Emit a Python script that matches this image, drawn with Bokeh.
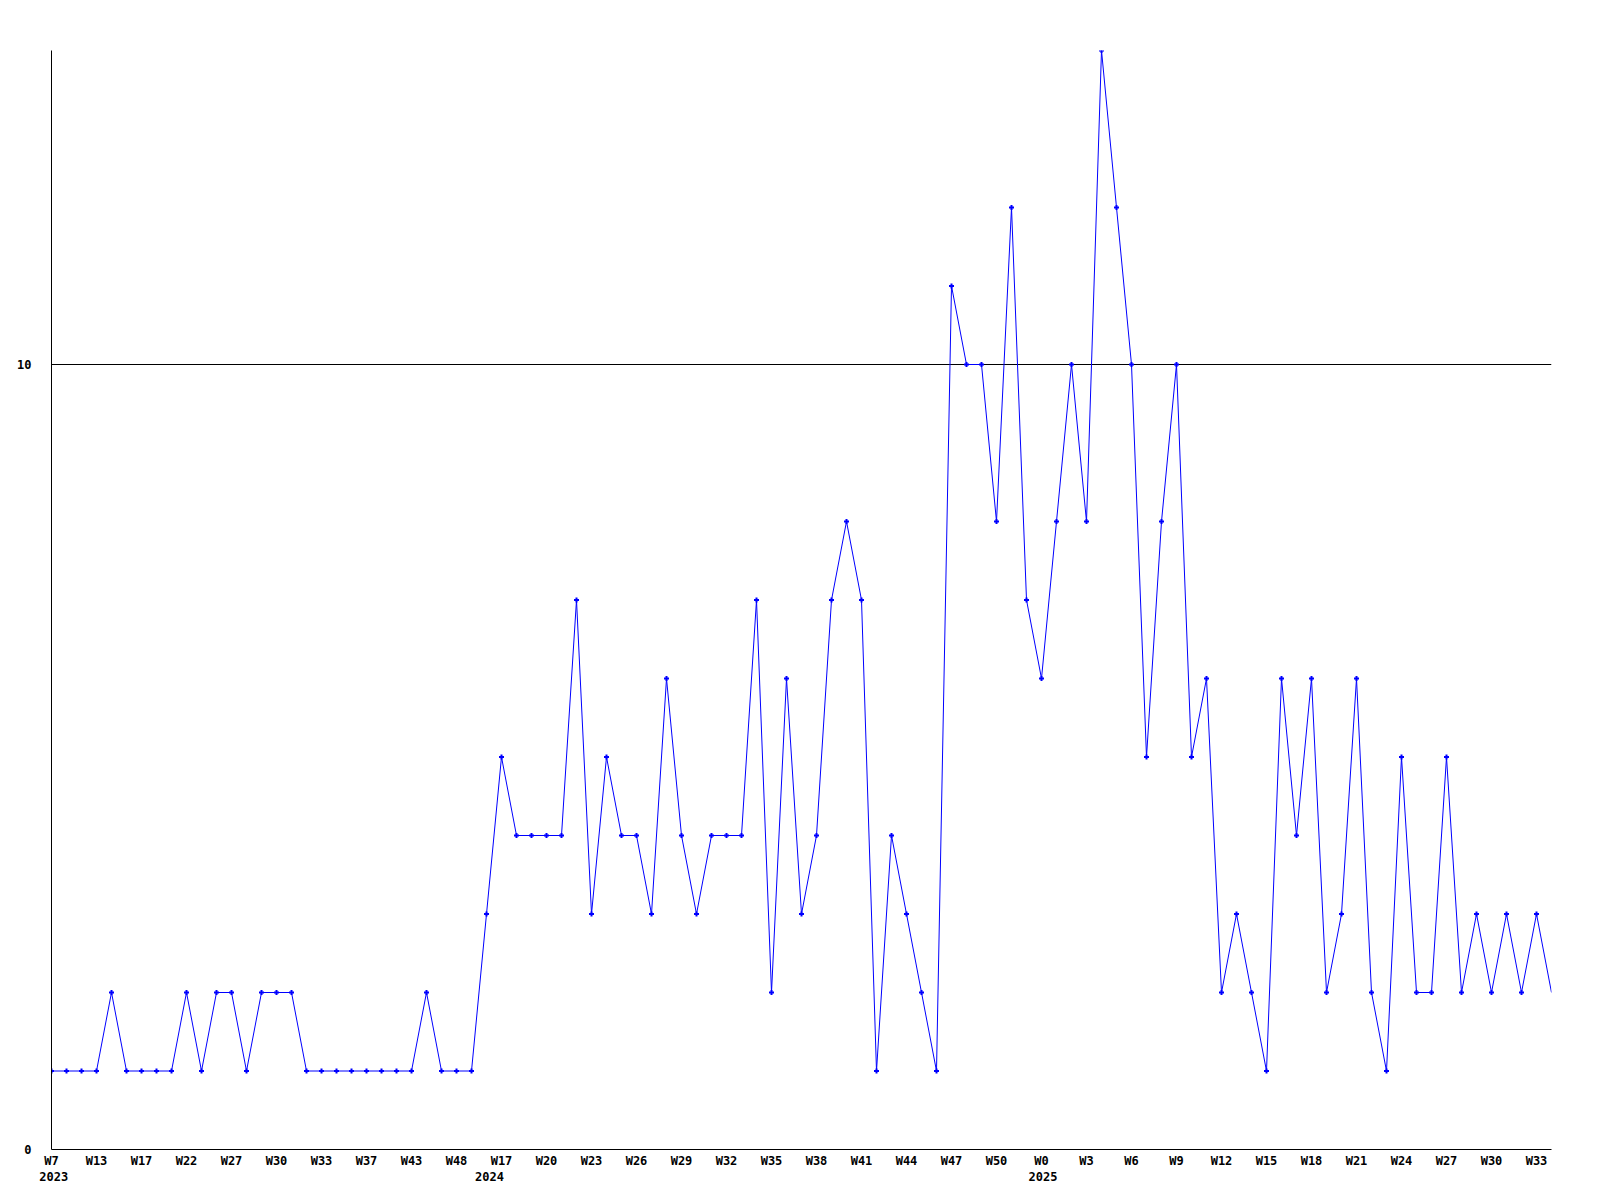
from bokeh.plotting import figure
from bokeh.models import Range1d, FixedTicker, LinearAxis, ColumnDataSource, Grid
from bokeh.embed import file_html
from bokeh.resources import INLINE

# Weekly counts (one value per week shown on the chart)
values = [1, 1, 1, 1, 2, 1, 1, 1, 1, 2,
          1, 2, 2, 1, 2, 2, 2, 1, 1, 1,
          1, 1, 1, 1, 1, 2, 1, 1, 1, 3,
          5, 4, 4, 4, 4, 7, 3, 5, 4, 4,
          3, 6, 4, 3, 4, 4, 4, 7, 2, 6,
          3, 4, 7, 8, 7, 1, 4, 3, 2, 1,
          11, 10, 10, 8, 12, 7, 6, 8, 10, 8,
          14, 12, 10, 5, 8, 10, 5, 6, 2, 3,
          2, 1, 6, 4, 6, 2, 3, 6, 2, 1,
          5, 2, 2, 5, 2, 3, 2, 3, 2, 3,
          2]

week_labels = ["W7", "W13", "W17", "W22", "W27", "W30", "W33", "W37", "W43", "W48",
               "W17", "W20", "W23", "W26", "W29", "W32", "W35", "W38", "W41", "W44",
               "W47", "W50", "W0", "W3", "W6", "W9", "W12", "W15", "W18", "W21",
               "W24", "W27", "W30", "W33"]
week_tick_step = 3

year_labels = ["2023", "2024", "2025"]
year_tick_index = [0.15, 29.2, 66.1]

y_ticks = [0, 10]
y_max = 14

x = list(range(len(values)))
src_line = ColumnDataSource(dict(x=x, y=values))
src_pts = ColumnDataSource(dict(x=x[:-1], y=values[:-1]))

FONT = "DejaVu Sans Mono"
BLUE = "#0000ff"

p = figure(frame_width=1500, frame_height=1099, output_backend="svg",
           toolbar_location=None, x_range=Range1d(0, len(values) - 1),
           y_range=Range1d(0, y_max), min_border_left=51, min_border_top=50,
           min_border_right=41, min_border_bottom=10,
           x_axis_type=None, y_axis_type=None)
p.outline_line_color = None
p.background_fill_color = "white"
p.border_fill_color = "white"

p.line("x", "y", source=src_line, color=BLUE, line_width=1)
p.scatter("x", "y", source=src_pts, marker="cross", size=5, line_width=2, color=BLUE)


def style(ax, standoff):
    ax.major_tick_line_color = None
    ax.minor_tick_line_color = None
    ax.major_label_text_font = FONT
    ax.major_label_text_font_style = "bold"
    ax.major_label_text_font_size = "12px"
    ax.major_label_text_color = "black"
    ax.major_label_standoff = standoff


# y axis
yax = LinearAxis(ticker=FixedTicker(ticks=y_ticks))
yax.axis_line_color = "black"
style(yax, 14)
p.add_layout(yax, "left")

# week axis
week_ticks = [i * week_tick_step for i in range(len(week_labels))]
xax = LinearAxis(ticker=FixedTicker(ticks=week_ticks))
xax.major_label_overrides = {t: lab for t, lab in zip(week_ticks, week_labels)}
xax.axis_line_color = "black"
style(xax, -2)
p.add_layout(xax, "below")

# year axis
yrax = LinearAxis(ticker=FixedTicker(ticks=year_tick_index))
yrax.major_label_overrides = {t: lab for t, lab in zip(year_tick_index, year_labels)}
yrax.axis_line_color = None
style(yrax, -5)
p.add_layout(yrax, "below")

# grid: single black line at 10
g = Grid(dimension=1, ticker=FixedTicker(ticks=[10]), grid_line_color="black", grid_line_width=1)
p.add_layout(g)

open("out.html", "w").write(file_html(p, INLINE))
